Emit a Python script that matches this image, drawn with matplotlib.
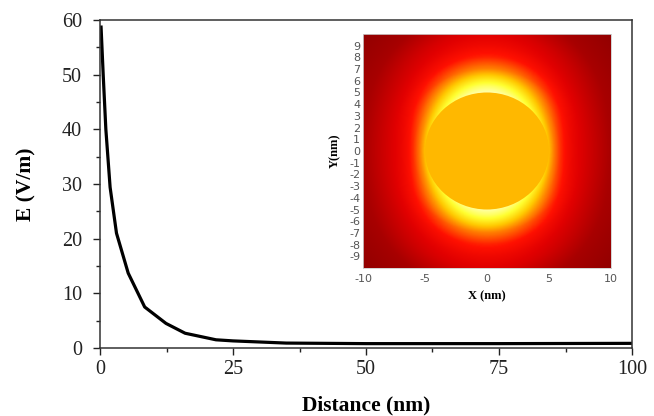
import numpy as np
import matplotlib.pyplot as plt
from matplotlib.colors import LinearSegmentedColormap
from matplotlib.patches import Circle

plt.rcParams['axes.unicode_minus'] = False

# field decay along distance
dist = [0.2, 0.6, 1.1, 1.9, 3.1, 5.3, 8.4, 12.4, 16, 21.8, 25, 35, 50, 75, 100]
efield = [58.7, 50, 40, 29.4, 21, 13.7, 7.5, 4.5, 2.7, 1.5, 1.3, 0.9, 0.8, 0.8, 0.85]

# inset: normalised |E| outside the particle, sampled along the pole (y) and equator (x)
r_samp = [5.0, 5.5, 6.0, 6.5, 7.0, 8.0, 9.0, 10.0, 12.0, 14.5]
v_pole = [1.0, 0.93, 0.84, 0.74, 0.64, 0.52, 0.45, 0.40, 0.26, 0.12]
v_equator = [0.74, 0.62, 0.53, 0.47, 0.43, 0.37, 0.31, 0.25, 0.16, 0.08]
radius = 5.0
sphere_color = '#ffb800'

serif = 'Liberation Serif'

fig = plt.figure(figsize=(6.54, 4.16), dpi=100)
ax = fig.add_axes([100/654, 1-348/416, 532/654, 328/416])
ax.plot(dist, efield, color='black', lw=2.3, solid_joinstyle='round')
ax.set_xlim(0, 100)
ax.set_ylim(0, 60)
ax.set_xticks([0, 25, 50, 75, 100])
ax.set_xticks(np.arange(0, 101, 12.5), minor=True)
ax.set_yticks(range(0, 61, 10))
ax.set_yticks(range(0, 61, 5), minor=True)
ax.tick_params(direction='out', length=5, width=1, labelsize=14.5, colors='#222222')
ax.tick_params(which='minor', direction='out', length=3, width=1, colors='#222222')
ax.tick_params(axis='y', pad=8)
for lab in ax.get_xticklabels() + ax.get_yticklabels():
    lab.set_fontfamily(serif)
for s in ax.spines.values():
    s.set_linewidth(1.1)
    s.set_color('#333333')
ax.set_xlabel('Distance (nm)', fontfamily=serif, fontweight='bold', fontsize=15.5, labelpad=12)
ax.set_ylabel('E (V/m)', fontfamily=serif, fontweight='bold', fontsize=15.5, labelpad=18)

# inset map
g = np.linspace(-10, 10, 401)
X, Y = np.meshgrid(g, g)
R = np.hypot(X, Y)
c2 = np.where(R > 0, (Y / np.maximum(R, 1e-9))**2, 1)
V = np.interp(R, r_samp, v_equator) * (1 - c2) + np.interp(R, r_samp, v_pole) * c2
cmap = LinearSegmentedColormap.from_list('field', [
    (0.0, '#800000'), (0.25, '#a80000'), (0.4, '#e00000'), (0.5, '#ff1000'),
    (0.62, '#ff7000'), (0.75, '#ffc800'), (0.88, '#ffff30'), (1.0, '#ffffa8')])

ins = fig.add_axes([363/654, 1-268/416, 248/654, 234/416])
ins.imshow(V, extent=(-10, 10, -10, 10), origin='lower', cmap=cmap, vmin=0, vmax=1,
           aspect='auto', interpolation='bilinear')
ins.add_patch(Circle((0, 0), radius, color=sphere_color, lw=0))
ins.set_xlim(-10, 10)
ins.set_ylim(-10, 10)
ins.set_xticks([-10, -5, 0, 5, 10])
ins.set_yticks(range(-9, 10))
ins.tick_params(length=0, labelsize=8, colors='#555555', pad=4)
ins.tick_params(axis='y', pad=2)
for s in ins.spines.values():
    s.set_color('#cccccc')
    s.set_linewidth(0.6)
ins.set_xlabel('X (nm)', fontfamily=serif, fontweight='bold', fontsize=9, labelpad=5)
ins.set_ylabel('Y(nm)', fontfamily=serif, fontweight='bold', fontsize=9, labelpad=6)

fig.savefig('out.png', dpi=100)
